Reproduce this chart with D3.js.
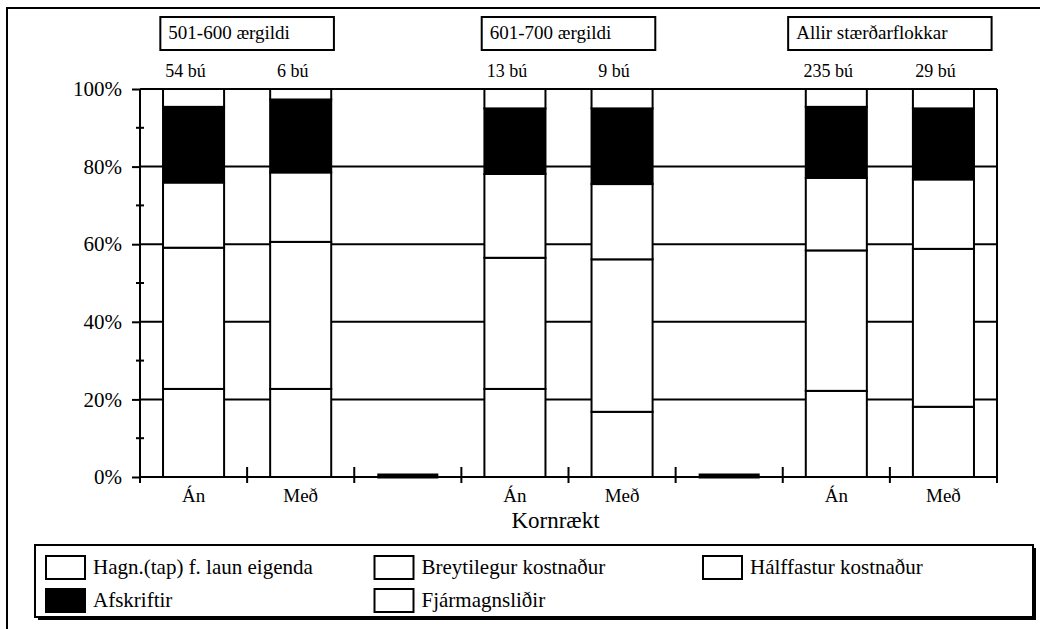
<!DOCTYPE html>
<html>
<head>
<meta charset="utf-8">
<script src="https://cdn.jsdelivr.net/npm/d3@7"></script>
<style>
    body { margin: 0; background: #fff; }
    svg { display: block; }
</style>
</head>
<body>
<div id="chart"></div>
<script>
// Data (percent of total, bottom to top)
const categories = ['Án', 'Með', '', 'Án', 'Með', '', 'Án', 'Með'];
const farmCounts = ['54 bú', '6 bú', '', '13 bú', '9 bú', '', '235 bú', '29 bú'];
const groupNames = ['501-600 ærgildi', '601-700 ærgildi', 'Allir stærðarflokkar'];
const seriesNames = ['Hagn.(tap) f. laun eigenda', 'Breytilegur kostnaður', 'Hálffastur kostnaður', 'Afskriftir', 'Fjármagnsliðir'];
const hagnadur = [22.7, 22.7, 0, 22.7, 16.8, 0, 22.2, 18.1];
const breytilegur = [36.4, 37.9, 0, 33.8, 39.3, 0, 36.2, 40.7];
const halffastur = [16.8, 17.9, 0, 21.6, 19.4, 0, 18.7, 17.9];
const afskriftir = [19.5, 18.8, 0, 16.9, 19.5, 0, 18.3, 18.3];
const fjarmagn = [4.6, 2.7, 0, 5.0, 5.0, 0, 4.6, 5.0];
const yTicks = [0, 0.2, 0.4, 0.6, 0.8, 1];
const yMinorTicks = [0.1, 0.3, 0.5, 0.7, 0.9];
const xTitle = 'Kornrækt';

let width = 1040,
    height = 629,
    font = "'Liberation Serif', 'Times New Roman', Tinos, 'DejaVu Serif', serif",
    plot = { left: 140, right: 997, top: 89, bottom: 477 },
    fills = ['#fff', '#fff', '#fff', '#000', '#fff'],
    seriesValues = [hagnadur, breytilegur, halffastur, afskriftir, fjarmagn],
    keys = seriesNames;

let table = categories.map(function(c, i) {
    let row = { index: i };
    keys.forEach(function(k, s) { row[k] = seriesValues[s][i]; });
    return row;
});

let svg = d3.select('#chart')
    .append('svg')
    .attr('width', width)
    .attr('height', height)
    .attr('font-family', font);

// Outer frame (only top and left edge visible)
svg.append('path')
    .attr('d', 'M7,' + height + 'V8H' + width)
    .attr('fill', 'none')
    .attr('stroke', '#000')
    .attr('stroke-width', 2);

// Scales
let x = d3.scaleBand()
    .domain(d3.range(categories.length))
    .range([plot.left, plot.right])
    .paddingInner(0.43)
    .paddingOuter(0.215);

let y = d3.scaleLinear()
    .domain([0, 1])
    .range([plot.bottom, plot.top]);

let gap = (x.step() - x.bandwidth()) / 2;

// Gridlines
svg.append('g')
    .selectAll('line')
    .data(yTicks.filter(function(d) { return d > 0; }))
    .join('line')
    .attr('x1', plot.left)
    .attr('x2', plot.right)
    .attr('y1', function(d) { return y(d); })
    .attr('y2', function(d) { return y(d); })
    .attr('stroke', '#000')
    .attr('stroke-width', 2);

// Axis lines + right border
svg.append('line')
    .attr('x1', plot.left).attr('x2', plot.right)
    .attr('y1', y(0)).attr('y2', y(0))
    .attr('stroke', '#000').attr('stroke-width', 2);
svg.append('line')
    .attr('x1', plot.left).attr('x2', plot.left)
    .attr('y1', y(1)).attr('y2', y(0) + 6)
    .attr('stroke', '#000').attr('stroke-width', 2);
svg.append('line')
    .attr('x1', plot.right).attr('x2', plot.right)
    .attr('y1', y(1)).attr('y2', y(0) + 6)
    .attr('stroke', '#000').attr('stroke-width', 2);

// Stacked bars
let stacked = d3.stack()
    .keys(keys)
    .offset(d3.stackOffsetExpand)(table);

svg.append('g')
    .selectAll('g')
    .data(stacked)
    .join('g')
    .attr('fill', function(d, i) { return fills[i]; })
    .selectAll('rect')
    .data(function(d) { return d.filter(function(p) { return p[1] > p[0]; }); })
    .join('rect')
    .attr('x', function(d) { return x(d.data.index); })
    .attr('y', function(d) { return y(d[1]); })
    .attr('width', x.bandwidth())
    .attr('height', function(d) { return y(d[0]) - y(d[1]); })
    .attr('stroke', '#000')
    .attr('stroke-width', 2);

// Empty categories show as a flat thick bar
svg.append('g')
    .selectAll('line')
    .data(table.filter(function(d) { return d3.sum(keys, function(k) { return d[k]; }) === 0; }))
    .join('line')
    .attr('x1', function(d) { return x(d.index); })
    .attr('x2', function(d) { return x(d.index) + x.bandwidth(); })
    .attr('y1', y(0) - 1)
    .attr('y2', y(0) - 1)
    .attr('stroke', '#000')
    .attr('stroke-width', 5);

// Y axis
let yAxis = d3.axisLeft(y)
    .tickValues(yTicks)
    .tickSize(8)
    .tickPadding(10)
    .tickFormat(d3.format('.0%'));

svg.append('g')
    .attr('transform', 'translate(' + plot.left + ',0)')
    .call(yAxis)
    .call(function(g) {
        g.attr('font-family', font).attr('font-size', 21);
        g.select('.domain').remove();
        g.selectAll('.tick line').attr('stroke', '#000').attr('stroke-width', 2);
        g.selectAll('.tick text').attr('fill', '#000');
    });

svg.append('g')
    .selectAll('line')
    .data(yMinorTicks)
    .join('line')
    .attr('x1', plot.left - 4)
    .attr('x2', plot.left + 4)
    .attr('y1', function(d) { return y(d); })
    .attr('y2', function(d) { return y(d); })
    .attr('stroke', '#000')
    .attr('stroke-width', 2);

// X axis ticks between categories
svg.append('g')
    .selectAll('line')
    .data(d3.range(1, categories.length))
    .join('line')
    .attr('x1', function(d) { return x(d) - gap; })
    .attr('x2', function(d) { return x(d) - gap; })
    .attr('y1', y(0) - 10)
    .attr('y2', y(0) + 6)
    .attr('stroke', '#000')
    .attr('stroke-width', 2);

// Category labels
svg.append('g')
    .attr('font-size', 19)
    .attr('text-anchor', 'middle')
    .selectAll('text')
    .data(categories)
    .join('text')
    .attr('x', function(d, i) { return x(i) + x.bandwidth() / 2; })
    .attr('y', y(0) + 25)
    .text(function(d) { return d; });

svg.append('text')
    .attr('x', (plot.left + plot.right) / 2 - 13)
    .attr('y', y(0) + 51)
    .attr('font-size', 23)
    .attr('text-anchor', 'middle')
    .text(xTitle);

// Farm counts above bars
svg.append('g')
    .attr('font-size', 18)
    .attr('text-anchor', 'middle')
    .selectAll('text')
    .data(farmCounts)
    .join('text')
    .attr('x', function(d, i) { return x(i) + x.bandwidth() / 2 - 8; })
    .attr('y', y(1) - 12)
    .text(function(d) { return d; });

// Group title boxes
let titles = svg.append('g')
    .selectAll('g')
    .data(groupNames)
    .join('g');

titles.each(function(name, g) {
    let box = d3.select(this),
        center = (x(3 * g) + x(3 * g + 1) + x.bandwidth()) / 2,
        label = box.append('text')
            .attr('font-size', 19)
            .attr('y', 39)
            .text(name),
        w = label.node().getComputedTextLength() + 52;

    box.insert('rect', 'text')
        .attr('x', center - w / 2)
        .attr('y', 17)
        .attr('width', w)
        .attr('height', 33)
        .attr('fill', '#fff')
        .attr('stroke', '#000')
        .attr('stroke-width', 2);
    label.attr('x', center - w / 2 + 8);
});

// Legend
let legend = svg.append('g');

legend.append('rect')
    .attr('x', 38).attr('y', 548)
    .attr('width', 998).attr('height', 72)
    .attr('fill', '#000');
legend.append('rect')
    .attr('x', 35).attr('y', 545)
    .attr('width', 998).attr('height', 72)
    .attr('fill', '#fff')
    .attr('stroke', '#000')
    .attr('stroke-width', 2);

let item = legend.selectAll('g.item')
    .data(seriesNames)
    .join('g')
    .attr('class', 'item')
    .attr('transform', function(d, i) {
        return 'translate(' + (46 + (i % 3) * 328.5) + ',' + (556 + Math.floor(i / 3) * 33) + ')';
    });

item.append('rect')
    .attr('width', 39)
    .attr('height', 23)
    .attr('fill', function(d, i) { return fills[i]; })
    .attr('stroke', '#000')
    .attr('stroke-width', 2);

item.append('text')
    .attr('x', 47)
    .attr('y', 18)
    .attr('font-size', 21)
    .text(function(d) { return d; });
</script>
</body>
</html>
